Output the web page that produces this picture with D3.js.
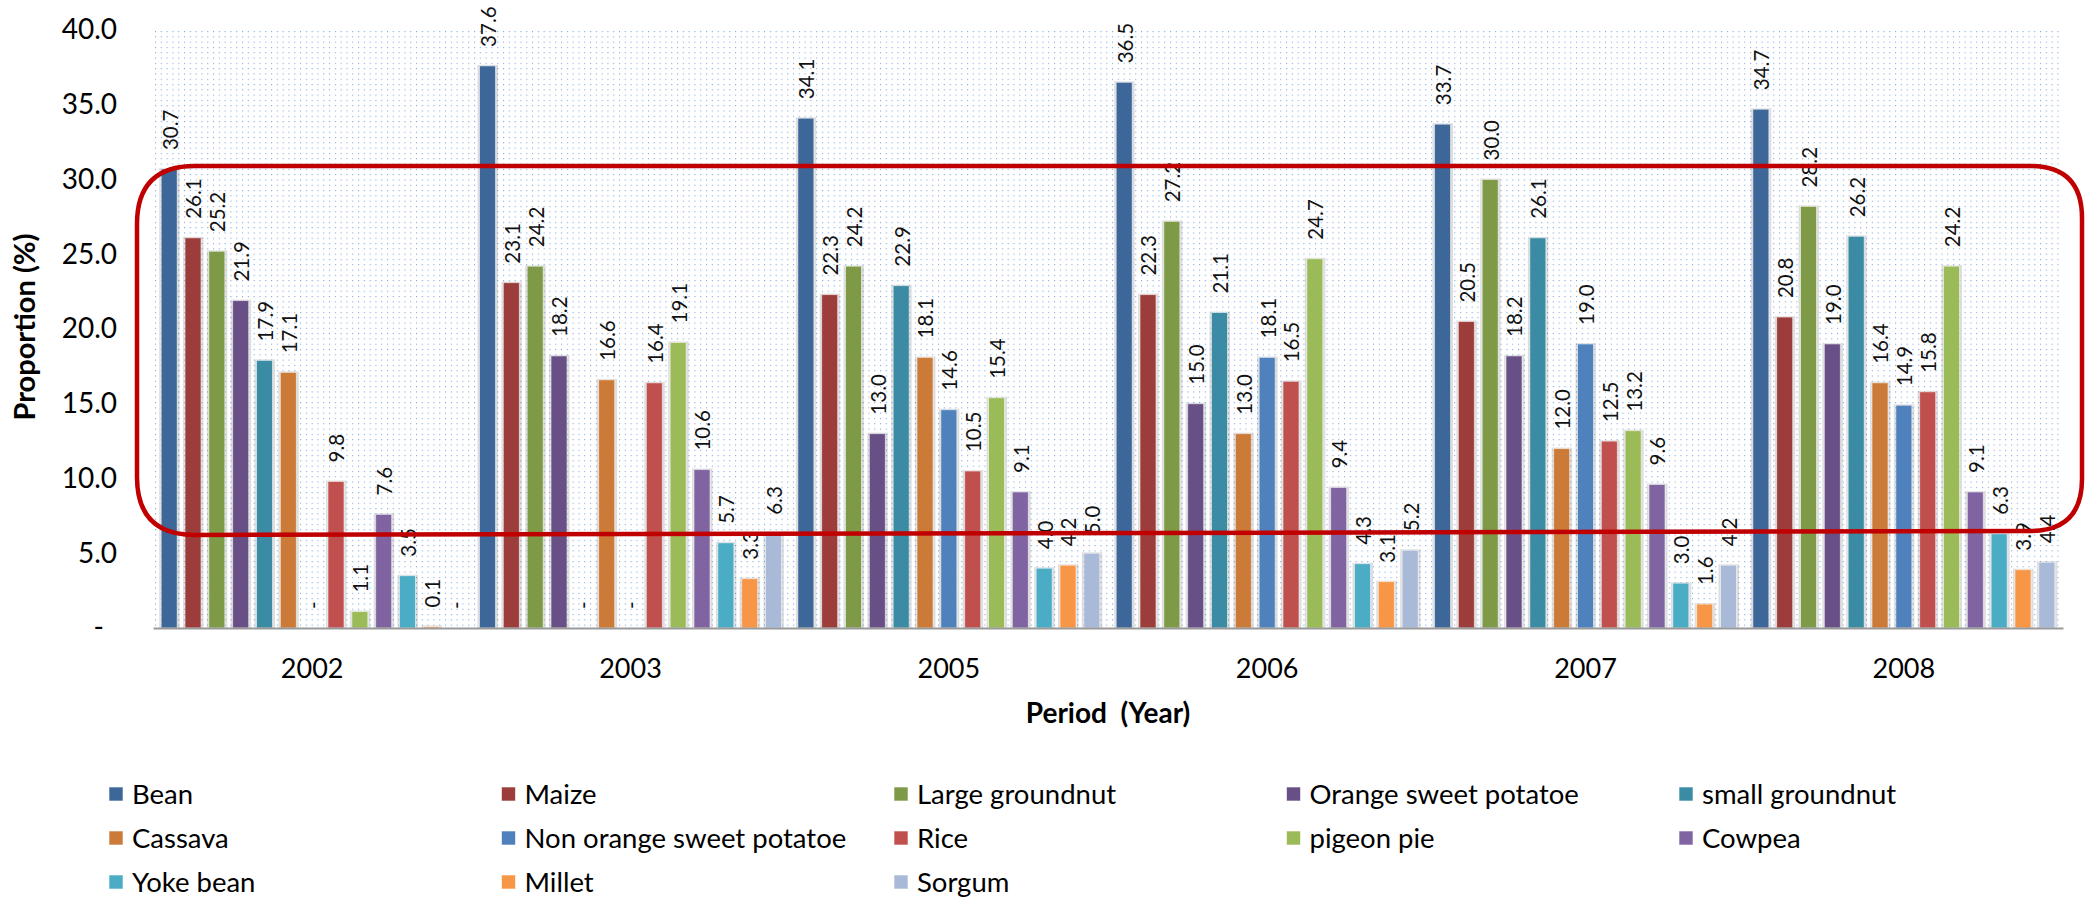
<!DOCTYPE html>
<html>
<head>
<meta charset="utf-8">
<script src="https://cdn.jsdelivr.net/npm/d3@7"></script>
<style>
  html, body { margin: 0; padding: 0; background: #fff; }
  svg { display: block; }
  text { font-family: Lato, "Open Sans", sans-serif; white-space: pre; }
</style>
</head>
<body>
<svg id="chart" width="2086" height="924"></svg>
<script>
// ---------------- DATA ----------------
const categories = ["2002", "2003", "2005", "2006", "2007", "2008"];
const seriesNames = ["Bean", "Maize", "Large groundnut", "Orange sweet potatoe", "small groundnut",
  "Cassava", "Non orange sweet potatoe", "Rice", "pigeon pie", "Cowpea",
  "Yoke bean", "Millet", "Sorgum"];
const seriesColors = ["#3D6799", "#9C3D3B", "#7E9A47", "#684F86", "#3A8BA3",
  "#CB7A38", "#4F81BD", "#C0504D", "#9BBB59", "#8064A2",
  "#4BACC6", "#F79646", "#A9B9D8"];
// values per series, in category order (null = "-")
const bean                 = [30.7, 37.6, 34.1, 36.5, 33.7, 34.7];
const maize                = [26.1, 23.1, 22.3, 22.3, 20.5, 20.8];
const largeGroundnut       = [25.2, 24.2, 24.2, 27.2, 30.0, 28.2];
const orangeSweetPotatoe   = [21.9, 18.2, 13.0, 15.0, 18.2, 19.0];
const smallGroundnut       = [17.9, null, 22.9, 21.1, 26.1, 26.2];
const cassava              = [17.1, 16.6, 18.1, 13.0, 12.0, 16.4];
const nonOrangeSweetPotatoe= [null, null, 14.6, 18.1, 19.0, 14.9];
const rice                 = [9.8, 16.4, 10.5, 16.5, 12.5, 15.8];
const pigeonPie            = [1.1, 19.1, 15.4, 24.7, 13.2, 24.2];
const cowpea               = [7.6, 10.6, 9.1, 9.4, 9.6, 9.1];
const yokeBean             = [3.5, 5.7, 4.0, 4.3, 3.0, 6.3];
const millet               = [0.1, 3.3, 4.2, 3.1, 1.6, 3.9];
const sorgum               = [null, 6.3, 5.0, 5.2, 4.2, 4.4];
const seriesValues = [bean, maize, largeGroundnut, orangeSweetPotatoe, smallGroundnut,
  cassava, nonOrangeSweetPotatoe, rice, pigeonPie, cowpea, yokeBean, millet, sorgum];
const yTicks = [0, 5, 10, 15, 20, 25, 30, 35, 40];
const yTitle = "Proportion (%)";
const xTitle = "Period  (Year)";

// ---------------- LAYOUT ----------------
const svg = d3.select("#chart");
const plot = { left: 153, right: 2063, top: 30, bottom: 628 };

const x0 = d3.scaleBand().domain(categories).range([plot.left, plot.right]).paddingInner(0).paddingOuter(0);
const x1 = d3.scaleBand().domain(seriesNames).range([0, x0.bandwidth()]).paddingInner(0.328).paddingOuter(0.343);
const y = d3.scaleLinear().domain([0, 40]).range([plot.bottom, plot.top]);

// dotted background pattern
const defs = svg.append("defs");
const pat = defs.append("pattern").attr("id", "dots").attr("patternUnits", "userSpaceOnUse")
  .attr("width", 5.8).attr("height", 5.3).attr("x", plot.left + 2).attr("y", plot.top + 1);
pat.append("rect").attr("x", 0).attr("y", 0).attr("width", 1.1).attr("height", 1.1).attr("fill", "#80a8dd");
svg.append("rect").attr("x", plot.left).attr("y", plot.top)
  .attr("width", plot.right - plot.left).attr("height", plot.bottom - plot.top)
  .attr("fill", "url(#dots)");

// bars
const rows = [];
categories.forEach((c, ci) => {
  seriesNames.forEach((s, si) => {
    rows.push({ cat: c, series: s, color: seriesColors[si], value: seriesValues[si][ci] });
  });
});

const g = svg.append("g");
const bw = x1.bandwidth();
// shadows
g.selectAll("rect.shadow").data(rows.filter(d => d.value != null)).join("rect")
  .attr("class", "shadow")
  .attr("x", d => x0(d.cat) + x1(d.series) - 2)
  .attr("y", d => y(d.value) - 1)
  .attr("width", bw + 4.5)
  .attr("height", d => y(0) - y(d.value) + 1)
  .attr("fill", "#000").attr("opacity", 0.13);
g.selectAll("rect.bar").data(rows.filter(d => d.value != null)).join("rect")
  .attr("class", "bar")
  .attr("x", d => x0(d.cat) + x1(d.series))
  .attr("y", d => y(d.value))
  .attr("width", bw)
  .attr("height", d => y(0) - y(d.value))
  .attr("fill", d => d.color)
  .attr("stroke", "rgba(255,255,255,0.55)").attr("stroke-width", 1);

// data labels
g.selectAll("text.lbl").data(rows).join("text")
  .attr("class", "lbl")
  .attr("transform", d => {
    const cx = x0(d.cat) + x1(d.series) + bw / 2 + 1;
    const cy = y(d.value == null ? 0 : d.value) - 19;
    return `translate(${cx},${cy}) rotate(-90)`;
  })
  .attr("dy", "0.36em")
  .attr("text-anchor", "start")
  .attr("font-size", 20.5)
  .attr("fill", "#111")
  .text(d => d.value == null ? "-" : d.value.toFixed(1));

// x axis
const xAxis = svg.append("g").attr("transform", `translate(0,${plot.bottom})`)
  .call(d3.axisBottom(x0).tickSize(0).tickPadding(0));
xAxis.select(".domain").attr("stroke", "#9a9a9a").attr("stroke-width", 2.2);
xAxis.selectAll(".tick text").attr("font-size", 27).attr("fill", "#000")
  .attr("y", 50).attr("dy", 0).attr("font-family", "Lato");

// y axis
const yAxis = svg.append("g").attr("transform", `translate(${plot.left},0)`)
  .call(d3.axisLeft(y).tickValues(yTicks).tickSize(0).tickPadding(36)
    .tickFormat(d => d === 0 ? "-" : d.toFixed(1)));
yAxis.select(".domain").remove();
yAxis.selectAll(".tick text").attr("font-size", 28).attr("fill", "#000").attr("font-family", "Lato")
  .attr("x", d => d === 0 ? -49 : -36);

// axis titles
svg.append("text").attr("transform", `translate(35,327) rotate(-90)`)
  .attr("text-anchor", "middle").attr("font-size", 29).attr("font-weight", "bold").attr("fill", "#000")
  .text(yTitle);
svg.append("text").attr("x", (plot.left + plot.right) / 2).attr("y", 723)
  .attr("text-anchor", "middle").attr("font-size", 28).attr("font-weight", "bold").attr("fill", "#000")
  .text(xTitle);

// red highlight frame
const L = 137, R = 2082, T = 166, TR = 166, BL = 535, BR = 531, rl = 58, rr = 52;
const framePath = `M ${L + rl} ${T} L ${R - rr} ${TR} Q ${R} ${TR} ${R} ${TR + rr} L ${R} ${BR - rr} Q ${R} ${BR} ${R - rr} ${BR} L ${L + rl} ${BL} Q ${L} ${BL} ${L} ${BL - rl} L ${L} ${T + rl} Q ${L} ${T} ${L + rl} ${T} Z`;
svg.append("path").attr("d", framePath).attr("fill", "none").attr("stroke", "#C00000").attr("stroke-width", 4.5);

// legend
const legend = svg.append("g");
const legX0 = 109, legDX = 392.5, legY0 = 794, legDY = 44;
seriesNames.forEach((s, i) => {
  const col = i % 5, row = Math.floor(i / 5);
  const lx = legX0 + col * legDX, ly = legY0 + row * legDY;
  legend.append("rect").attr("x", lx).attr("y", ly - 7).attr("width", 14).attr("height", 14)
    .attr("fill", seriesColors[i]).attr("stroke", "rgba(255,255,255,0.6)").attr("stroke-width", 1);
  legend.append("text").attr("x", lx + 23).attr("y", ly + 9.5).attr("font-size", 27.5).attr("fill", "#000")
    .text(s);
});
</script>
</body>
</html>
